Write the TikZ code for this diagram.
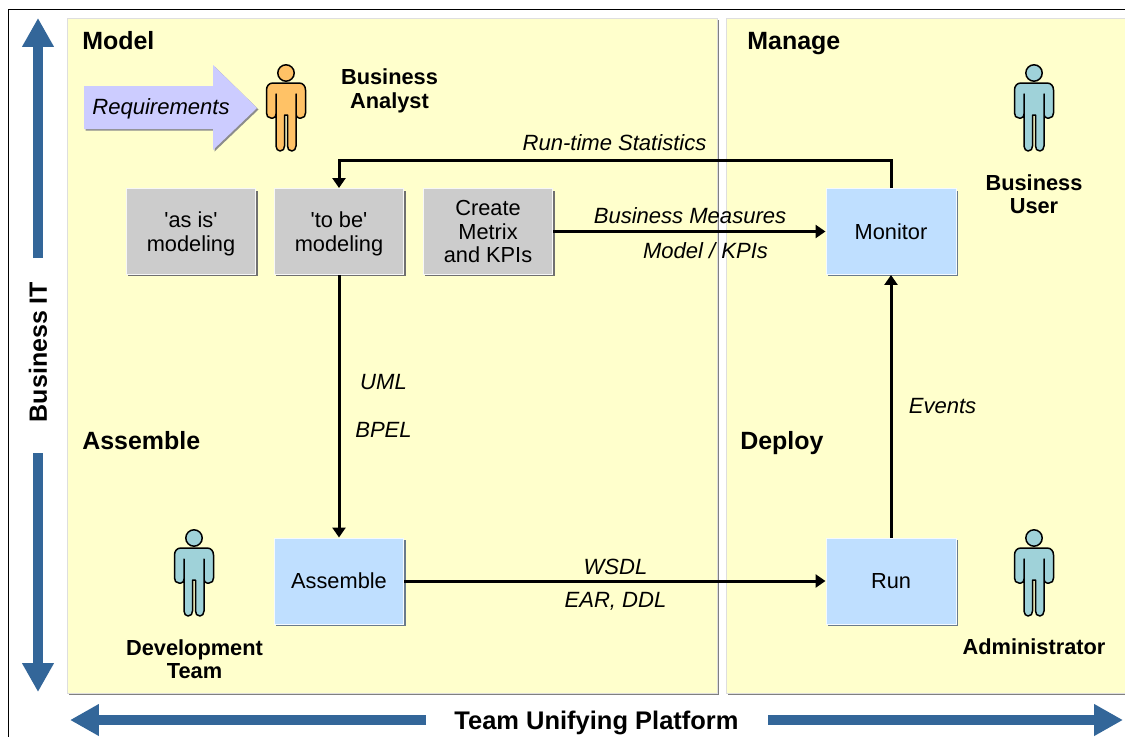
\documentclass[tikz,border=0pt]{standalone}
\usepackage{fontspec}
\setmainfont{Liberation Sans}
\usetikzlibrary{arrows.meta,shadows}

\definecolor{panelyellow}{HTML}{FFFFCC}
\definecolor{boxgray}{HTML}{CCCCCC}
\definecolor{boxblue}{HTML}{BFDFFF}
\definecolor{reqviolet}{HTML}{CCCCFF}
\definecolor{axisblue}{HTML}{336699}
\definecolor{personorange}{HTML}{FFC266}
\definecolor{personteal}{HTML}{9FD2D9}

\tikzset{
	panel/.style={draw=black!13, line width=0.02cm, fill=panelyellow, anchor=north west, drop shadow={shadow xshift=0.03cm, shadow yshift=-0.03cm, fill=black!50, opacity=1}},
	flatbox/.style={fill=#1, draw=white!85!#1, line width=0.02cm, minimum width=2.6cm, minimum height=1.72cm, align=center, font=\fontsize{12.4}{13.5}\selectfont, text depth=0pt, drop shadow={shadow xshift=0.04cm, shadow yshift=-0.04cm, fill=black!45!#1, opacity=1}},
	heading/.style={font=\fontsize{14.2}{16}\selectfont\bfseries, anchor=west, inner sep=0, text height=0.36cm, text depth=0pt},
	rolename/.style={font=\fontsize{12.4}{13.3}\selectfont\bfseries, align=center, inner sep=0},
	flowname/.style={font=\fontsize{12.55}{13.3}\selectfont\itshape, inner sep=0},
	flow/.style={line width=0.06cm, -{Triangle[length=0.2cm,width=0.26cm]}},
	bigarrow/.style={line width=0.21cm, axisblue, -{Triangle[length=0.58cm,width=0.6cm]}},
	pics/person/.style={code={
		\draw [line width=0.03cm, fill=#1, line join=round] (-13,10) -- (13,10) .. controls (17,10) and (19.5,13) .. (19.5,17) -- (19.5,40) .. controls (19.5,43) and (18,45) .. (15,45) -- (13,45) .. controls (11,45) and (10,43) .. (10,41) -- (10,21) -- (10,73) .. controls (10,76) and (8,78) .. (6,78) .. controls (3,78) and (1.5,76) .. (1.5,73) -- (1.5,42) -- (-1.5,42) -- (-1.5,73) .. controls (-1.5,76) and (-3,78) .. (-6,78) .. controls (-8,78) and (-10,76) .. (-10,73) -- (-10,21) -- (-10,41) .. controls (-10,43) and (-11,45) .. (-13,45) -- (-15,45) .. controls (-18,45) and (-19.5,43) .. (-19.5,40) -- (-19.5,17) .. controls (-19.5,13) and (-17,10) .. (-13,10) -- cycle;
		\draw [line width=0.03cm, fill=#1] (0,0) circle (8.2);
	}}
}

\begin{document}
\begin{tikzpicture}[x=0.02cm,y=-0.02cm]
	\useasboundingbox (0,0) rectangle (1125,737);
	\draw [line width=0.025cm] (1125,9.5) -- (8.5,9.5) -- (8.5,737);

	\node [panel, minimum width=13.0cm, minimum height=13.5cm] (modelpanel) at (67,18) {};
	\node [panel, minimum width=8.0cm, minimum height=13.5cm] (managepanel) at (726,18) {};

	\node [heading] (model) at (82,41) {Model};
	\node [heading] (manage) at (747,41) {Manage};
	\node [heading] (assemblehead) at (82,440) {Assemble};
	\node [heading] (deploy) at (740,440) {Deploy};

	\draw [draw=none, fill=reqviolet, drop shadow={shadow xshift=0.03cm, shadow yshift=-0.03cm, fill=black!45, opacity=1}] (84,86) -- (213,86) -- (213,65) -- (257,108) -- (213,150) -- (213,129) -- (84,129) -- cycle;
	\node [flowname] (requirements) at (161,108.5) {Requirements};

	\pic at (286,73) {person=personorange};
	\pic at (194,538) {person=personteal};
	\pic at (1034,73) {person=personteal};
	\pic at (1034,538) {person=personteal};

	\node [rolename] (analyst) at (389.5,91) {Business\\Analyst};
	\node [rolename] (busiuser) at (1034,194) {Business\\User};
	\node [rolename] (devteam) at (194.5,659) {Development\\Team};
	\node [rolename] (admin) at (1034,646.5) {Administrator};

	\node [flatbox=boxgray] (asis) at (191,231.5) {\textquotesingle as is\textquotesingle\\modeling};
	\node [flatbox=boxgray] (tobe) at (339,231.5) {\textquotesingle to be\textquotesingle\\modeling};
	\node [flatbox=boxgray] (metrix) at (488,231.5) {Create\\Metrix\\and KPIs};
	\node [flatbox=boxblue] (monitor) at (891,231.5) {Monitor};
	\node [flatbox=boxblue] (assemble) at (339,581) {Assemble};
	\node [flatbox=boxblue] (run) at (891,581) {Run};

	\draw [flow] (monitor.north) -- ++(0,-27.5) -| (tobe.north);
	\draw [flow] (metrix.east) -- (monitor.west);
	\draw [flow] (tobe.south) -- (assemble.north);
	\draw [flow] (assemble.east) -- (run.west);
	\draw [flow] (run.north) -- (monitor.south);

	\node [flowname] (stats) at (614.5,143) {Run-time Statistics};
	\node [flowname] (measures) at (690,216) {Business Measures};
	\node [flowname] (kpis) at (705.5,250.5) {Model / KPIs};
	\node [flowname] (uml) at (383.5,382) {UML};
	\node [flowname] (bpel) at (383.5,430) {BPEL};
	\node [flowname] (events) at (942.5,406) {Events};
	\node [flowname] (wsdl) at (615.5,567) {WSDL};
	\node [flowname] (ear) at (615.5,601.5) {EAR, DDL};

	\node [heading, anchor=center, rotate=90] (businessit) at (38,352) {Business IT};
	\node [heading, anchor=center, font=\fontsize{14.5}{16}\selectfont\bfseries] (platform) at (596.5,720) {Team Unifying Platform};

	\coordinate (upstart) at (38,258);
	\coordinate (upend) at (38,18);
	\coordinate (downstart) at (38,453);
	\coordinate (downend) at (38,692);
	\coordinate (leftstart) at (426,720);
	\coordinate (leftend) at (70,720);
	\coordinate (rightstart) at (768,720);
	\coordinate (rightend) at (1123,720);
	\draw [bigarrow] (upstart) -- (upend);
	\draw [bigarrow] (downstart) -- (downend);
	\draw [bigarrow] (leftstart) -- (leftend);
	\draw [bigarrow] (rightstart) -- (rightend);
\end{tikzpicture}
\end{document}
